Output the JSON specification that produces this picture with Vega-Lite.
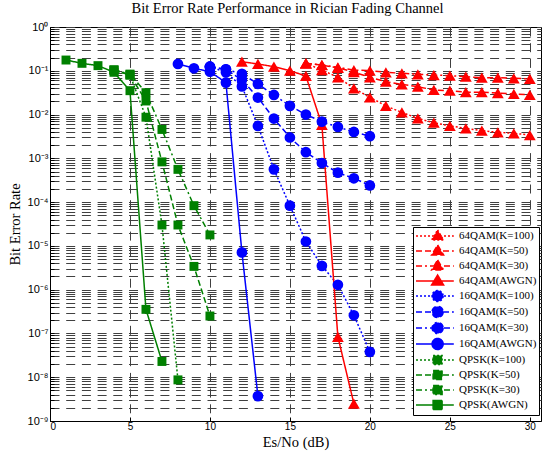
{
  "$schema": "https://vega.github.io/schema/vega-lite/v6.json",
  "width": 491,
  "height": 394,
  "autosize": "none",
  "padding": {"left": 50, "top": 27, "right": 6, "bottom": 35},
  "background": "white",
  "title": {"text": "Bit Error Rate Performance in Rician Fading Channel", "font": "Liberation Serif", "fontSize": 14.5, "fontWeight": "normal", "color": "black", "offset": 5, "frame": "group", "dx": -8},
  "config": {
    "view": {"stroke": "black", "strokeWidth": 1},
    "axis": {"domainColor": "black", "tickColor": "black", "labelColor": "black", "titleColor": "black", "gridColor": "#404040", "gridDash": [9, 6.7], "gridWidth": 1, "gridOpacity": 1, "tickSize": -4, "labelFont": "Liberation Sans", "labelFontSize": 10, "titleFont": "Liberation Serif", "titleFontSize": 14.5, "titleFontWeight": "normal", "labelOverlap": false}
  },
  "data": {"values": [
    {"s": "QPSK(AWGN)", "x": 1, "y": 0.176}, {"s": "QPSK(AWGN)", "x": 2, "y": 0.148}, {"s": "QPSK(AWGN)", "x": 3, "y": 0.131}, {"s": "QPSK(AWGN)", "x": 4, "y": 0.0923}, {"s": "QPSK(AWGN)", "x": 5, "y": 0.0351}, {"s": "QPSK(AWGN)", "x": 6, "y": 3.55e-7}, {"s": "QPSK(AWGN)", "x": 7, "y": 2.29e-8},
    {"s": "QPSK(K=100)", "x": 4, "y": 0.104}, {"s": "QPSK(K=100)", "x": 5, "y": 0.08}, {"s": "QPSK(K=100)", "x": 6, "y": 0.0087}, {"s": "QPSK(K=100)", "x": 7, "y": 3.0e-5}, {"s": "QPSK(K=100)", "x": 8, "y": 8.7e-9},
    {"s": "QPSK(K=50)", "x": 4, "y": 0.104}, {"s": "QPSK(K=50)", "x": 5, "y": 0.08}, {"s": "QPSK(K=50)", "x": 6, "y": 0.0204}, {"s": "QPSK(K=50)", "x": 7, "y": 8.3e-4}, {"s": "QPSK(K=50)", "x": 8, "y": 3.0e-5}, {"s": "QPSK(K=50)", "x": 9, "y": 3.4e-6}, {"s": "QPSK(K=50)", "x": 10, "y": 2.5e-7},
    {"s": "QPSK(K=30)", "x": 4, "y": 0.104}, {"s": "QPSK(K=30)", "x": 5, "y": 0.084}, {"s": "QPSK(K=30)", "x": 6, "y": 0.0316}, {"s": "QPSK(K=30)", "x": 7, "y": 4.57e-3}, {"s": "QPSK(K=30)", "x": 8, "y": 5.6e-4}, {"s": "QPSK(K=30)", "x": 9, "y": 8.3e-5}, {"s": "QPSK(K=30)", "x": 10, "y": 1.78e-5},
    {"s": "16QAM(AWGN)", "x": 8, "y": 0.143}, {"s": "16QAM(AWGN)", "x": 9, "y": 0.114}, {"s": "16QAM(AWGN)", "x": 10, "y": 0.0955}, {"s": "16QAM(AWGN)", "x": 11, "y": 0.0537}, {"s": "16QAM(AWGN)", "x": 12, "y": 7.1e-6}, {"s": "16QAM(AWGN)", "x": 13, "y": 3.7e-9},
    {"s": "16QAM(K=100)", "x": 10, "y": 0.124}, {"s": "16QAM(K=100)", "x": 11, "y": 0.092}, {"s": "16QAM(K=100)", "x": 12, "y": 0.044}, {"s": "16QAM(K=100)", "x": 13, "y": 5.5e-3}, {"s": "16QAM(K=100)", "x": 14, "y": 5.6e-4}, {"s": "16QAM(K=100)", "x": 15, "y": 8.3e-5}, {"s": "16QAM(K=100)", "x": 16, "y": 1.26e-5}, {"s": "16QAM(K=100)", "x": 17, "y": 3.5e-6}, {"s": "16QAM(K=100)", "x": 18, "y": 1.29e-6}, {"s": "16QAM(K=100)", "x": 19, "y": 2.6e-7}, {"s": "16QAM(K=100)", "x": 20, "y": 3.8e-8},
    {"s": "16QAM(K=50)", "x": 10, "y": 0.124}, {"s": "16QAM(K=50)", "x": 11, "y": 0.108}, {"s": "16QAM(K=50)", "x": 12, "y": 0.062}, {"s": "16QAM(K=50)", "x": 13, "y": 0.0245}, {"s": "16QAM(K=50)", "x": 14, "y": 8.1e-3}, {"s": "16QAM(K=50)", "x": 15, "y": 3.0e-3}, {"s": "16QAM(K=50)", "x": 16, "y": 1.38e-3}, {"s": "16QAM(K=50)", "x": 17, "y": 7.8e-4}, {"s": "16QAM(K=50)", "x": 18, "y": 4.7e-4}, {"s": "16QAM(K=50)", "x": 19, "y": 3.5e-4}, {"s": "16QAM(K=50)", "x": 20, "y": 2.4e-4},
    {"s": "16QAM(K=30)", "x": 10, "y": 0.124}, {"s": "16QAM(K=30)", "x": 11, "y": 0.108}, {"s": "16QAM(K=30)", "x": 12, "y": 0.085}, {"s": "16QAM(K=30)", "x": 13, "y": 0.05}, {"s": "16QAM(K=30)", "x": 14, "y": 0.028}, {"s": "16QAM(K=30)", "x": 15, "y": 0.0158}, {"s": "16QAM(K=30)", "x": 16, "y": 0.01}, {"s": "16QAM(K=30)", "x": 17, "y": 6.9e-3}, {"s": "16QAM(K=30)", "x": 18, "y": 5.2e-3}, {"s": "16QAM(K=30)", "x": 19, "y": 4.0e-3}, {"s": "16QAM(K=30)", "x": 20, "y": 3.2e-3},
    {"s": "64QAM(AWGN)", "x": 12, "y": 0.161}, {"s": "64QAM(AWGN)", "x": 13, "y": 0.143}, {"s": "64QAM(AWGN)", "x": 14, "y": 0.124}, {"s": "64QAM(AWGN)", "x": 15, "y": 0.1005}, {"s": "64QAM(AWGN)", "x": 16, "y": 0.076}, {"s": "64QAM(AWGN)", "x": 17, "y": 5.8e-3}, {"s": "64QAM(AWGN)", "x": 18, "y": 8.4e-8}, {"s": "64QAM(AWGN)", "x": 19, "y": 2.5e-9},
    {"s": "64QAM(K=100)", "x": 16, "y": 0.148}, {"s": "64QAM(K=100)", "x": 17, "y": 0.104}, {"s": "64QAM(K=100)", "x": 18, "y": 0.071}, {"s": "64QAM(K=100)", "x": 19, "y": 0.0398}, {"s": "64QAM(K=100)", "x": 20, "y": 0.0248}, {"s": "64QAM(K=100)", "x": 21, "y": 0.0158}, {"s": "64QAM(K=100)", "x": 22, "y": 0.0112}, {"s": "64QAM(K=100)", "x": 23, "y": 8.2e-3}, {"s": "64QAM(K=100)", "x": 24, "y": 6.5e-3}, {"s": "64QAM(K=100)", "x": 25, "y": 5.5e-3}, {"s": "64QAM(K=100)", "x": 26, "y": 4.85e-3}, {"s": "64QAM(K=100)", "x": 27, "y": 4.28e-3}, {"s": "64QAM(K=100)", "x": 28, "y": 3.94e-3}, {"s": "64QAM(K=100)", "x": 29, "y": 3.73e-3}, {"s": "64QAM(K=100)", "x": 30, "y": 3.41e-3},
    {"s": "64QAM(K=50)", "x": 16, "y": 0.148}, {"s": "64QAM(K=50)", "x": 17, "y": 0.135}, {"s": "64QAM(K=50)", "x": 18, "y": 0.117}, {"s": "64QAM(K=50)", "x": 19, "y": 0.093}, {"s": "64QAM(K=50)", "x": 20, "y": 0.071}, {"s": "64QAM(K=50)", "x": 21, "y": 0.0564}, {"s": "64QAM(K=50)", "x": 22, "y": 0.0491}, {"s": "64QAM(K=50)", "x": 23, "y": 0.0433}, {"s": "64QAM(K=50)", "x": 24, "y": 0.0364}, {"s": "64QAM(K=50)", "x": 25, "y": 0.0351}, {"s": "64QAM(K=50)", "x": 26, "y": 0.0324}, {"s": "64QAM(K=50)", "x": 27, "y": 0.0324}, {"s": "64QAM(K=50)", "x": 28, "y": 0.0309}, {"s": "64QAM(K=50)", "x": 29, "y": 0.0295}, {"s": "64QAM(K=50)", "x": 30, "y": 0.0282},
    {"s": "64QAM(K=30)", "x": 16, "y": 0.148}, {"s": "64QAM(K=30)", "x": 17, "y": 0.136}, {"s": "64QAM(K=30)", "x": 18, "y": 0.12}, {"s": "64QAM(K=30)", "x": 19, "y": 0.104}, {"s": "64QAM(K=30)", "x": 20, "y": 0.1005}, {"s": "64QAM(K=30)", "x": 21, "y": 0.0923}, {"s": "64QAM(K=30)", "x": 22, "y": 0.0877}, {"s": "64QAM(K=30)", "x": 23, "y": 0.0832}, {"s": "64QAM(K=30)", "x": 24, "y": 0.08}, {"s": "64QAM(K=30)", "x": 25, "y": 0.0773}, {"s": "64QAM(K=30)", "x": 26, "y": 0.0733}, {"s": "64QAM(K=30)", "x": 27, "y": 0.0695}, {"s": "64QAM(K=30)", "x": 28, "y": 0.0695}, {"s": "64QAM(K=30)", "x": 29, "y": 0.0673}, {"s": "64QAM(K=30)", "x": 30, "y": 0.0649}
  ]},
  "encoding": {
    "x": {"field": "x", "type": "quantitative", "scale": {"domain": [0, 30.7], "nice": false, "zero": false},
      "axis": {"title": "Es/No (dB)", "values": [0, 5, 10, 15, 20, 25, 30], "grid": true, "labelPadding": 4, "titlePadding": 4}},
    "y": {"field": "y", "type": "quantitative", "scale": {"type": "log", "domain": [1e-9, 1], "nice": false},
      "axis": {"title": "Bit Error Rate", "grid": true, "labelPadding": 6, "titlePadding": 5, "labelFontSize": 11,
        "values": [1e-9,2e-9,3e-9,4e-9,5e-9,6e-9,7e-9,8e-9,9e-9,1e-8,2e-8,3e-8,4e-8,5e-8,6e-8,7e-8,8e-8,9e-8,1e-7,2e-7,3e-7,4e-7,5e-7,6e-7,7e-7,8e-7,9e-7,1e-6,2e-6,3e-6,4e-6,5e-6,6e-6,7e-6,8e-6,9e-6,1e-5,2e-5,3e-5,4e-5,5e-5,6e-5,7e-5,8e-5,9e-5,1e-4,2e-4,3e-4,4e-4,5e-4,6e-4,7e-4,8e-4,9e-4,1e-3,2e-3,3e-3,4e-3,5e-3,6e-3,7e-3,8e-3,9e-3,0.01,0.02,0.03,0.04,0.05,0.06,0.07,0.08,0.09,0.1,0.2,0.3,0.4,0.5,0.6,0.7,0.8,0.9,1],
        "labelExpr": "abs(log(datum.value)/LN10 - round(log(datum.value)/LN10)) < 0.01 ? '10' + ['⁰','⁻¹','⁻²','⁻³','⁻⁴','⁻⁵','⁻⁶','⁻⁷','⁻⁸','⁻⁹'][round(-log(datum.value)/LN10)] : ''"}},
    "color": {"field": "s", "type": "nominal",
      "scale": {"domain": ["64QAM(K=100)", "64QAM(K=50)", "64QAM(K=30)", "64QAM(AWGN)", "16QAM(K=100)", "16QAM(K=50)", "16QAM(K=30)", "16QAM(AWGN)", "QPSK(K=100)", "QPSK(K=50)", "QPSK(K=30)", "QPSK(AWGN)"],
        "range": ["#ff0000", "#ff0000", "#ff0000", "#ff0000", "#0000ff", "#0000ff", "#0000ff", "#0000ff", "#008000", "#008000", "#008000", "#008000"]},
      "legend": {"title": null, "orient": "none", "legendX": 363, "legendY": 200, "padding": 2, "strokeColor": "black", "fillColor": "white", "cornerRadius": 0,
         "symbolSize": 144, "symbolStrokeWidth": 1.5, "labelFont": "Liberation Serif", "labelFontSize": 11, "labelColor": "black", "labelOffset": 30, "rowPadding": -2,
         "encode": {"symbols": {"update": {
           "shape": {"signal": "indexof(datum.value,'64QAM')==0 ? 'M-1,0H5.3M2.6,-1L3.6,0.67L1.6,0.67Z' : indexof(datum.value,'16QAM')==0 ? 'M-1,0H5.3M3.52,0A0.92,0.92 0 1,1 1.68,0A0.92,0.92 0 1,1 3.52,0Z' : 'M-1,0H5.3M1.85,-0.75H3.35V0.75H1.85Z'"},
           "stroke": {"signal": "indexof(datum.value,'64QAM')==0 ? '#ff0000' : indexof(datum.value,'16QAM')==0 ? '#0000ff' : '#008000'"},
           "fill": {"signal": "indexof(datum.value,'64QAM')==0 ? '#ff0000' : indexof(datum.value,'16QAM')==0 ? '#0000ff' : '#008000'"},
           "strokeDash": {"signal": "indexof(datum.value,'K=100')>=0 ? [2,2] : indexof(datum.value,'K=50')>=0 ? [6,3] : indexof(datum.value,'K=30')>=0 ? [6,3,2,3] : [1,0]"},
           "opacity": {"value": 1}
         }}}}}
  },
  "layer": [
    {"mark": {"type": "line", "strokeWidth": 1.5},
     "encoding": {"strokeDash": {"field": "s", "type": "nominal",
       "scale": {"domain": ["64QAM(K=100)", "64QAM(K=50)", "64QAM(K=30)", "64QAM(AWGN)", "16QAM(K=100)", "16QAM(K=50)", "16QAM(K=30)", "16QAM(AWGN)", "QPSK(K=100)", "QPSK(K=50)", "QPSK(K=30)", "QPSK(AWGN)"],
         "range": [[2, 2], [6, 3], [6, 3, 2, 3], [1, 0], [2, 2], [6, 3], [6, 3, 2, 3], [1, 0], [2, 2], [6, 3], [6, 3, 2, 3], [1, 0]]},
       "legend": null}}},
    {"transform": [{"filter": "indexof(datum.s,'64QAM')==0"}], "mark": {"type": "point", "filled": true, "opacity": 1, "size": 140, "shape": "triangle-up"}},
    {"transform": [{"filter": "indexof(datum.s,'16QAM')==0"}], "mark": {"type": "point", "filled": true, "opacity": 1, "size": 115, "shape": "circle"}},
    {"transform": [{"filter": "indexof(datum.s,'QPSK')==0"}], "mark": {"type": "point", "filled": true, "opacity": 1, "size": 80, "shape": "square"}}
  ]
}
